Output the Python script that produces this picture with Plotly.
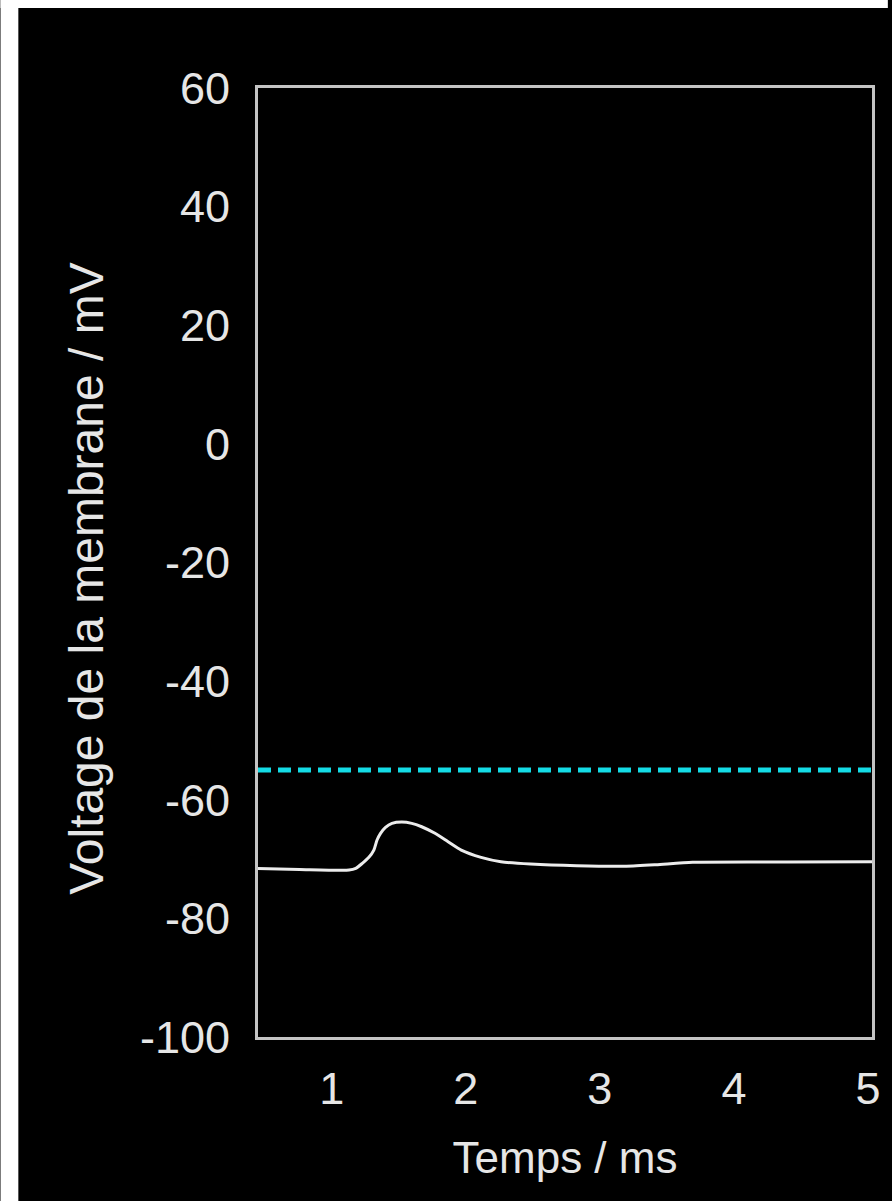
import plotly.graph_objects as go

# Data
time_ms = [0.45, 0.76, 1.129, 1.179, 1.228, 1.277, 1.314, 1.338, 1.364, 1.401, 1.449,
           1.523, 1.597, 1.671, 1.770, 1.868, 1.966, 2.114, 2.262, 2.483, 2.828,
           3.197, 3.419, 3.692, 4.401, 5.03]
voltage_mv = [-71.6, -71.75, -71.85, -71.56, -70.72, -69.71, -68.48, -66.79, -65.66,
              -64.65, -63.98, -63.76, -63.98, -64.55, -65.66, -67.08, -68.48, -69.71,
              -70.45, -70.84, -71.12, -71.2, -70.95, -70.55, -70.5, -70.45]
threshold_mv = -55
x_ticks = [1, 2, 3, 4, 5]
y_ticks = [-100, -80, -60, -40, -20, 0, 20, 40, 60]

W, H = 892, 1201
L, R, T, B = 258, 14, 88, 164
pw, ph = W - L - R, H - T - B

def px_x(p):
    return (p - L) / pw

def px_y(p):
    return (H - B - p) / ph

sans = "Liberation Sans, Arial, sans-serif"
txt = "#e6e6e6"

fig = go.Figure()
fig.add_trace(go.Scatter(x=time_ms, y=voltage_mv, mode="lines",
                         line=dict(color="#ececec", width=3, shape="spline", smoothing=0.6),
                         showlegend=False, hoverinfo="skip"))
fig.add_hline(y=threshold_mv, line=dict(color="#14dce6", width=5, dash="13px,7px"))

fig.update_xaxes(range=[0.45, 5.03], tickvals=x_ticks, ticktext=[str(v) for v in x_ticks],
                 showgrid=False, zeroline=False, showline=True, mirror=True,
                 linecolor="#c4c4c4", linewidth=3, ticks="", ticklabelstandoff=10,
                 tickfont=dict(family=sans, size=45, color=txt),
                 title=dict(text="Temps / ms", font=dict(family=sans, size=44, color=txt),
                            standoff=30))
fig.update_yaxes(range=[-100, 60], tickvals=y_ticks, ticktext=[str(v) for v in y_ticks],
                 showgrid=False, zeroline=False, showline=True, mirror=True,
                 linecolor="#c4c4c4", linewidth=3, ticks="", ticklabelstandoff=16,
                 tickfont=dict(family=sans, size=45, color=txt))

fig.add_annotation(text="Voltage de la membrane / mV", textangle=-90,
                   xref="paper", yref="paper", x=px_x(84), y=px_y(579),
                   xanchor="center", yanchor="middle", showarrow=False,
                   font=dict(family=sans, size=48, color=txt))

# white page strips at top and left edges
fig.add_shape(type="rect", xref="paper", yref="paper", x0=px_x(-2), x1=px_x(16),
              y0=px_y(H + 2), y1=px_y(-2), fillcolor="white", line_width=0, layer="below")
fig.add_shape(type="rect", xref="paper", yref="paper", x0=px_x(-2), x1=px_x(W + 2),
              y0=px_y(8), y1=px_y(-2), fillcolor="white", line_width=0, layer="below")

fig.update_layout(width=W, height=H, autosize=False,
                  margin=dict(l=L, r=R, t=T, b=B, pad=0),
                  paper_bgcolor="black", plot_bgcolor="black")

fig.write_html("out.html", config={"displayModeBar": False},
               post_script="document.body.style.margin='0px';document.body.style.overflow='hidden';")
